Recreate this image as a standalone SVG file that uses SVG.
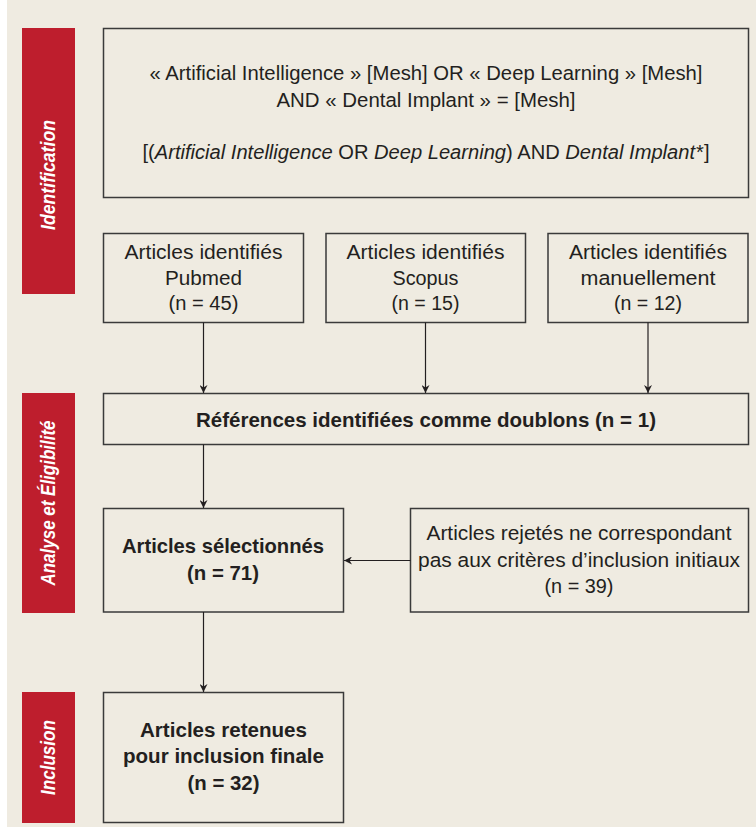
<svg xmlns="http://www.w3.org/2000/svg" width="756" height="828" viewBox="0 0 756 828">
<defs>
<style>
.bg{fill:#efebe1}
.bar{fill:#be1e2d}
.box{fill:#efebe1;stroke:#3a3a3a;stroke-width:1.5}
.t{font-family:"Liberation Sans",Arial,sans-serif;font-size:20.5px;fill:#231f20;text-anchor:middle}
.b{font-weight:bold}
.i{font-style:italic}
.lab{font-family:"Liberation Sans",Arial,sans-serif;font-size:20px;font-weight:bold;font-style:italic;fill:#ffffff;text-anchor:middle}
.con{stroke:#231f20;stroke-width:1.2;fill:none;marker-end:url(#arr)}
</style>
<marker id="arr" viewBox="0 0 10 10" refX="10" refY="5" markerWidth="8" markerHeight="8" markerUnits="userSpaceOnUse" orient="auto">
<path d="M0,0 L10,5 L0,10 L3,5 Z" fill="#231f20"/>
</marker>
</defs>
<rect x="0" y="0" width="756" height="828" fill="#ffffff"/>
<rect class="bg" x="7" y="0" width="749" height="827"/>

<g id="bar-identification">
<rect class="bar" x="22" y="28" width="53" height="266"/>
<text class="lab" transform="translate(55,175) rotate(-90)" textLength="110" lengthAdjust="spacingAndGlyphs">Identification</text>
</g>
<g id="bar-analyse">
<rect class="bar" x="22" y="393" width="53" height="220"/>
<text class="lab" transform="translate(55,503) rotate(-90)" textLength="165" lengthAdjust="spacingAndGlyphs">Analyse et Éligibilité</text>
</g>
<g id="bar-inclusion">
<rect class="bar" x="22" y="692" width="53" height="131"/>
<text class="lab" transform="translate(55,757.5) rotate(-90)" textLength="75" lengthAdjust="spacingAndGlyphs">Inclusion</text>
</g>

<g id="search">
<rect class="box" x="103.5" y="28.5" width="645" height="169"/>
<text class="t" x="426" y="80" textLength="553" lengthAdjust="spacingAndGlyphs">« Artificial Intelligence » [Mesh] OR « Deep Learning » [Mesh]</text>
<text class="t" x="426" y="107" textLength="299" lengthAdjust="spacingAndGlyphs">AND « Dental Implant » = [Mesh]</text>
<text class="t" x="426" y="159" textLength="567" lengthAdjust="spacingAndGlyphs">[(<tspan class="i">Artificial Intelligence</tspan> OR <tspan class="i">Deep Learning</tspan>) AND <tspan class="i">Dental Implant</tspan><tspan dx="1">*]</tspan></text>
</g>

<g id="pubmed">
<rect class="box" x="103.5" y="233.5" width="200" height="89"/>
<text class="t" x="203.5" y="259" textLength="158" lengthAdjust="spacingAndGlyphs">Articles identifiés</text>
<text class="t" x="203.5" y="285" textLength="77" lengthAdjust="spacingAndGlyphs">Pubmed</text>
<text class="t" x="203.5" y="310" textLength="70" lengthAdjust="spacingAndGlyphs">(n = 45)</text>
</g>
<g id="scopus">
<rect class="box" x="326" y="233.5" width="199.5" height="89"/>
<text class="t" x="425.5" y="259" textLength="158" lengthAdjust="spacingAndGlyphs">Articles identifiés</text>
<text class="t" x="425.5" y="285" textLength="66" lengthAdjust="spacingAndGlyphs">Scopus</text>
<text class="t" x="425.5" y="310" textLength="68" lengthAdjust="spacingAndGlyphs">(n = 15)</text>
</g>
<g id="manuel">
<rect class="box" x="548" y="233.5" width="200" height="89"/>
<text class="t" x="648" y="259" textLength="158" lengthAdjust="spacingAndGlyphs">Articles identifiés</text>
<text class="t" x="648" y="285" textLength="135" lengthAdjust="spacingAndGlyphs">manuellement</text>
<text class="t" x="648" y="310" textLength="68" lengthAdjust="spacingAndGlyphs">(n = 12)</text>
</g>

<g id="doublons">
<rect class="box" x="103.5" y="393.5" width="645" height="51"/>
<text class="t b" x="426" y="427" textLength="460" lengthAdjust="spacingAndGlyphs">Références identifiées comme doublons (n = 1)</text>
</g>

<g id="selectionnes">
<rect class="box" x="103.5" y="508.5" width="240" height="103.5"/>
<text class="t b" x="223" y="553" textLength="202" lengthAdjust="spacingAndGlyphs">Articles sélectionnés</text>
<text class="t b" x="223" y="580" textLength="72" lengthAdjust="spacingAndGlyphs">(n = 71)</text>
</g>

<g id="rejetes">
<rect class="box" x="410.5" y="508.5" width="338" height="103.5"/>
<text class="t" x="579" y="540" textLength="305" lengthAdjust="spacingAndGlyphs">Articles rejetés ne correspondant</text>
<text class="t" x="579" y="567" textLength="322" lengthAdjust="spacingAndGlyphs">pas aux critères d’inclusion initiaux</text>
<text class="t" x="579" y="593" textLength="69" lengthAdjust="spacingAndGlyphs">(n = 39)</text>
</g>

<g id="final">
<rect class="box" x="103.5" y="692.5" width="240" height="130"/>
<text class="t b" x="223.5" y="737" textLength="167" lengthAdjust="spacingAndGlyphs">Articles retenues</text>
<text class="t b" x="223.5" y="763" textLength="201" lengthAdjust="spacingAndGlyphs">pour inclusion finale</text>
<text class="t b" x="223.5" y="790" textLength="72" lengthAdjust="spacingAndGlyphs">(n = 32)</text>
</g>

<g id="connectors">
<line class="con" x1="203.5" y1="322.5" x2="203.5" y2="393"/>
<line class="con" x1="425.5" y1="322.5" x2="425.5" y2="393"/>
<line class="con" x1="648" y1="322.5" x2="648" y2="393"/>
<line class="con" x1="203.5" y1="444.5" x2="203.5" y2="508"/>
<line class="con" x1="410.5" y1="560.5" x2="344" y2="560.5"/>
<line class="con" x1="203.5" y1="612" x2="203.5" y2="692"/>
</g>
</svg>
